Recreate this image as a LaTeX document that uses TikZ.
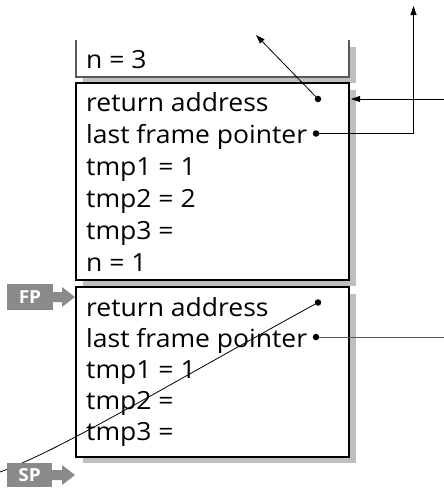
\documentclass[tikz,border=0pt]{standalone}
\usepackage{fontspec}
\setmainfont{Open Sans}[FakeStretch=1.06]
\usetikzlibrary{arrows.meta}
\begin{document}
\begin{tikzpicture}[x=1pt,y=-1pt,
  frame/.style={draw=black, line width=1.1pt, fill=white},
  shade/.style={fill=black!25, draw=none},
  txt/.style={anchor=base west, inner sep=0pt, font=\fontsize{25}{29}\selectfont},
  dot/.style={circle, fill=black, inner sep=0pt, minimum size=6.5pt},
  ptr/.style={line width=0.8pt, -{Triangle[length=9pt,width=6pt]}},
  tagfill/.style={fill=black!46, draw=none},
  tagtxt/.style={text=white, font=\fontsize{18}{22}\selectfont\bfseries, inner sep=0pt}
]
\useasboundingbox (0,0) rectangle (444,491);
% shadows
\fill[shade] (349,47) rectangle (356,83);
\fill[shade] (83,77) rectangle (356,83);
\fill[shade] (83,90) rectangle (356,286);
\fill[shade] (83,294) rectangle (356,463);
% frames
\draw[line width=1.1pt, black!65] (76,40) -- (76,77) -- (349,77) -- (349,40);
\draw[frame] (76,83) rectangle (349,280);
\draw[frame] (76,287) rectangle (349,457);
% texts
\node[txt] (n3) at (86,68) {n = 3};
\node[txt] (ra1) at (86,111.5) {return address};
\node[txt] (lf1) at (86,143.5) {last frame pointer};
\node[txt] (ta1) at (86,175.5) {tmp1 = 1};
\node[txt] (tb1) at (86,207.5) {tmp2 = 2};
\node[txt] (tc1) at (86,239.5) {tmp3 =};
\node[txt] (n1) at (86,271.5) {n = 1};
\node[txt] (ra2) at (86,316) {return address};
\node[txt] (lf2) at (86,347) {last frame pointer};
\node[txt] (ta2) at (86,378) {tmp1 = 1};
\node[txt] (tb2) at (86,409) {tmp2 =};
\node[txt] (tc2) at (86,440) {tmp3 =};
% dots
\node[dot] (d1) at (318,99) {};
\node[dot] (d2) at (316,133.5) {};
\node[dot] (d3) at (318,302.5) {};
\node[dot] (d4) at (316,337) {};
% free ends
\coordinate (up1) at (256,35);
\coordinate (in1) at (444,99);
\coordinate (tip1) at (351,99);
\coordinate (up2) at (413.5,6);
\coordinate (out4) at (444,337);
\coordinate (cur) at (0,472);
% connectors
\draw[ptr] (d1) -- (up1);
\draw[ptr] (in1) -- (tip1);
\draw[ptr] (d2) -| (up2);
\draw[line width=0.8pt, black!65] (d4) -- (out4);
\draw[line width=0.8pt] (d3) .. controls (150,395) and (60,450) .. (cur);
% FP and SP tags
\fill[tagfill] (7,284) rectangle (53,310);
\fill[tagfill] (53,292) -- (62,292) -- (62,287) -- (75,297) -- (62,307) -- (62,302) -- (53,302) -- cycle;
\node[tagtxt] (fp) at (30,297) {FP};
\fill[tagfill] (7,463) rectangle (52,487);
\fill[tagfill] (52,470) -- (62,470) -- (62,465) -- (75,475) -- (62,485) -- (62,480) -- (52,480) -- cycle;
\node[tagtxt] (sp) at (29.5,475) {SP};
\end{tikzpicture}
\end{document}
